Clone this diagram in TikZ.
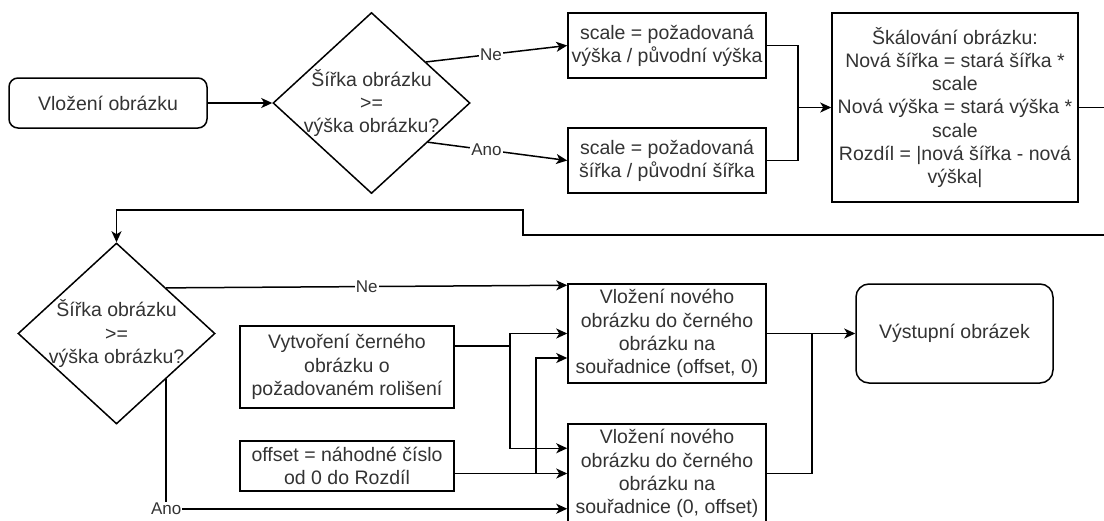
\documentclass[tikz,border=0pt]{standalone}
\usepackage{fontspec}
\setmainfont{Liberation Sans}
\usetikzlibrary{arrows.meta,shapes.geometric,calc}
\begin{document}
\begin{tikzpicture}[x=1pt,y=-1pt,
  txt/.style={text=black!80, font=\fontsize{19.5}{23.3}\selectfont, align=center},
  box/.style={txt, draw=black, line width=1.5pt, fill=white, inner sep=0pt, rectangle},
  rbox/.style={box, rounded corners=9pt},
  dia/.style={draw=black, line width=1.5pt, fill=white, diamond, inner sep=0pt, minimum width=197pt, minimum height=181pt},
  conn/.style={line width=1.5pt, draw=black},
  arr/.style={conn, -{Stealth[length=11pt,width=10pt,inset=3pt]}},
  lab/.style={fill=white, inner sep=1pt, text=black!80, font=\fontsize{17}{20}\selectfont}
]
\useasboundingbox (0,0) rectangle (1104,520);

% top row
\node[rbox, minimum width=198pt, minimum height=50pt] (start) at (108,103) {Vložení obrázku};
\node[dia] (d1) at (371.5,103) {};
\node[txt] (d1t) at (d1.center) {Šířka obrázku\\>=\\výška obrázku?};
\node[box, minimum width=198pt, minimum height=65pt] (s1) at (667,45.5) {scale = požadovaná\\výška / původní výška};
\node[box, minimum width=198pt, minimum height=65pt] (s2) at (667,160.5) {scale = požadovaná\\šířka / původní šířka};
\node[box, minimum width=246pt, minimum height=189pt] (sc) at (955,107.5) {Škálování obrázku:\\Nová šířka = stará šířka *\\scale\\Nová výška = stará výška *\\scale\\Rozdíl = |nová šířka - nová\\výška|};

% bottom row
\node[dia] (d2) at (116.5,333.5) {};
\node[txt] (d2t) at (d2.center) {Šířka obrázku\\>=\\výška obrázku?};
\node[box, minimum width=214pt, minimum height=82pt] (c) at (347,367) {Vytvoření černého\\obrázku o\\požadovaném rolišení};
\node[box, minimum width=214pt, minimum height=50pt] (o) at (347,466) {offset = náhodné číslo\\od 0 do Rozdíl};
\node[box, minimum width=198pt, minimum height=99pt] (v1) at (667,333.5) {Vložení nového\\obrázku do černého\\obrázku na\\souřadnice (offset, 0)};
\node[box, minimum width=198pt, minimum height=99pt] (v2) at (667,473.5) {Vložení nového\\obrázku do černého\\obrázku na\\souřadnice (0, offset)};
\node[rbox, rounded corners=13pt, minimum width=197pt, minimum height=99pt] (out) at (954.5,333.5) {Výstupní obrázek};

% top connectors
\draw[arr] (start.east) -- (d1.west);
\draw[arr] ($(d1.north)!0.55!(d1.east)$) -- node[lab,pos=0.46]{Ne} (s1.west);
\draw[arr] ($(d1.east)!0.43!(d1.south)$) -- node[lab,pos=0.42]{Ano} (s2.west);
\coordinate (j0) at (798,107.5);
\draw[conn] (s1.east) -| (j0);
\draw[conn] (s2.east) -| (j0);
\draw[arr] (j0) -- (sc.west);

% loop back
\coordinate (lp1) at (1118,235);
\coordinate (lp2) at (523,210);
\draw[arr] (sc.east) -| (lp1) -| (lp2) -| (d2.north);

% bottom connectors
\draw[arr] (d2.north east) -- node[lab,pos=0.5]{Ne} ($(v1.north west)+(0,2)$);
\draw[arr] (d2.south east) |- node[lab,pos=0.5]{Ano} ($(v2.south west)+(0,-15)$);
\coordinate (j1) at (510,346);
\draw[conn] ($(c.east)+(0,-21)$) -- (j1);
\draw[arr] (j1) |- (v1.west);
\draw[arr] (j1) |- ($(v2.north west)+(0,25)$);
\coordinate (j2) at (536,473.5);
\draw[arr] (o.east |- v2.west) -- (v2.west);
\draw[arr] (j2) |- ($(v1.west)+(0,24.5)$);
\coordinate (j3) at (812,333.5);
\draw[arr] (v1.east) -- (out.west);
\draw[conn] (v2.east) -| (j3);
\end{tikzpicture}
\end{document}
